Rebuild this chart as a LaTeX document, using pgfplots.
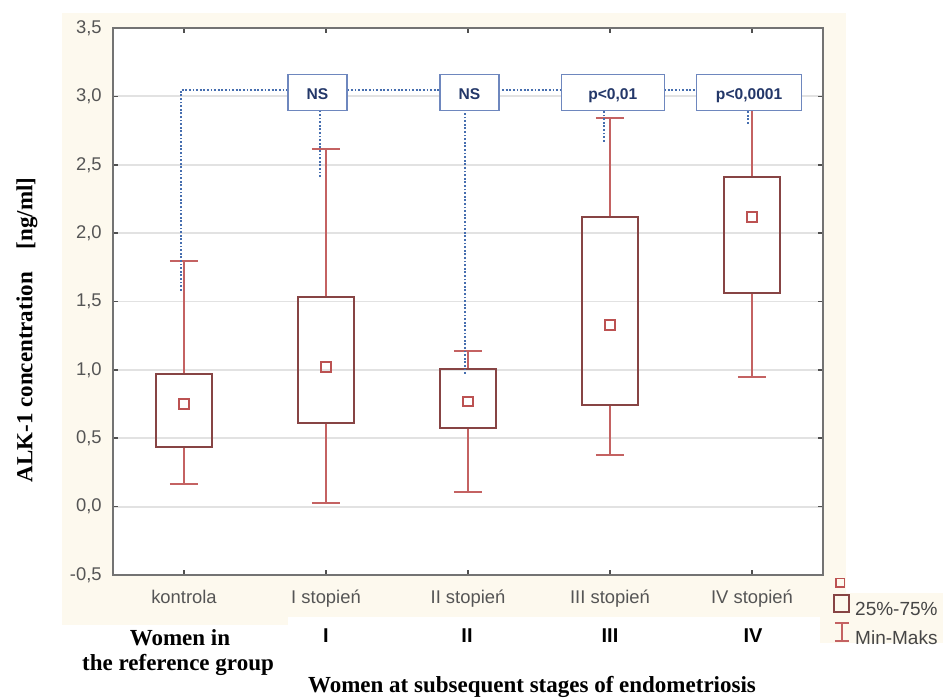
\documentclass[border=0pt]{standalone}
\usepackage{pgfplots}
\pgfplotsset{compat=1.18}
\usepgfplotslibrary{statistics}
\usepackage{fontspec}
\setmainfont{Liberation Serif}
\newfontfamily\arial{Liberation Sans}
\definecolor{cream}{RGB}{253,249,238}
\definecolor{boxc}{RGB}{135,68,68}
\definecolor{whiskc}{RGB}{196,98,98}
\definecolor{markc}{RGB}{188,82,82}
\definecolor{dotc}{RGB}{70,110,175}
\definecolor{annc}{RGB}{110,135,190}
\definecolor{annt}{RGB}{35,55,105}
\definecolor{labc}{RGB}{85,85,85}
\definecolor{legc}{RGB}{70,70,70}
\definecolor{axisc}{RGB}{115,115,115}
\definecolor{tickc}{RGB}{80,80,80}
\definecolor{gridc}{RGB}{226,226,226}
\begin{document}
\begin{tikzpicture}
\useasboundingbox (0,0) rectangle (472.5pt,349pt);
\fill[white] (0,0) rectangle (472.5pt,349pt);
\fill[cream] (31pt,40.5pt) rectangle (423pt,342.5pt);
\fill[cream] (31pt,36.5pt) rectangle (144pt,40.6pt);
\fill[cream] (410pt,27.5pt) rectangle (471.5pt,52.5pt);
\begin{axis}[
  at={(56.5pt,61.5pt)}, anchor=south west,
  scale only axis, width=355pt, height=273.5pt,
  xmin=-0.5, xmax=4.5, ymin=-0.5, ymax=3.5,
  boxplot/draw direction=y,
  xtick={0,1,2,3,4},
  xticklabels={kontrola, I stopień, II stopień, III stopień, IV stopień},
  ytick={-0.5,0,0.5,1,1.5,2,2.5,3,3.5},
  yticklabels={{-0,5},{0,0},{0,5},{1,0},{1,5},{2,0},{2,5},{3,0},{3,5}},
  ymajorgrids, major grid style={draw=gridc, line width=0.9pt},
  axis line style={draw=axisc, line width=1pt},
  tick style={draw=tickc, line width=0.8pt}, major tick length=2.5pt,
  tick align=inside,
  ticklabel style={font=\arial\fontsize{9.2}{10}\selectfont, text=labc},
  yticklabel style={anchor=east, inner sep=0pt, xshift=-5.5pt},
  xticklabel style={anchor=north, inner sep=0pt, text height=6.7pt, text depth=2pt, yshift=-7.5pt},
  axis background/.style={fill=white},
  legend style={at={(1,0)}, anchor=north west, xshift=5pt, yshift=2.25pt,
    draw=none, fill=none, inner sep=0pt, row sep=0pt,
    font=\arial\fontsize{9.5}{11}\selectfont, text=legc,
    nodes={inner sep=0pt, text height=8pt, text depth=3.5pt},
    /tikz/every odd column/.append style={column sep=2.5pt}},
  legend cell align=left,
]
% boxes
\addplot[forget plot, draw=whiskc, line width=1pt,
  boxplot prepared={draw position=0, lower whisker=0.165, lower quartile=0.437,
  median=0.75, upper quartile=0.97, upper whisker=1.796, box extend=0.4, whisker extend=0.2,
  every box/.style={draw=boxc, line width=1pt}, every median/.style={draw=none}}] coordinates {};
\addplot[forget plot, draw=whiskc, line width=1pt,
  boxplot prepared={draw position=1, lower whisker=0.026, lower quartile=0.61,
  median=1.02, upper quartile=1.53, upper whisker=2.615, box extend=0.4, whisker extend=0.2,
  every box/.style={draw=boxc, line width=1pt}, every median/.style={draw=none}}] coordinates {};
\addplot[forget plot, draw=whiskc, line width=1pt,
  boxplot prepared={draw position=2, lower whisker=0.105, lower quartile=0.575,
  median=0.77, upper quartile=1.01, upper whisker=1.135, box extend=0.4, whisker extend=0.2,
  every box/.style={draw=boxc, line width=1pt}, every median/.style={draw=none}}] coordinates {};
\addplot[forget plot, draw=whiskc, line width=1pt,
  boxplot prepared={draw position=3, lower whisker=0.38, lower quartile=0.745,
  median=1.33, upper quartile=2.12, upper whisker=2.84, box extend=0.4, whisker extend=0.2,
  every box/.style={draw=boxc, line width=1pt}, every median/.style={draw=none}}] coordinates {};
\addplot[forget plot, draw=whiskc, line width=1pt,
  boxplot prepared={draw position=4, lower whisker=0.95, lower quartile=1.56,
  median=2.12, upper quartile=2.41, upper whisker=2.95, box extend=0.4, whisker extend=0.2,
  every box/.style={draw=boxc, line width=1pt}, every median/.style={draw=none}}] coordinates {};
% mean markers
\addplot[forget plot, only marks, mark=square, mark size=2.4pt,
  mark options={draw=markc, line width=1pt, fill=none}]
  coordinates {(0,0.75) (1,1.02) (2,0.77) (3,1.33) (4,2.12)};
% dotted comparison lines
\addplot[forget plot, dotc, line width=1pt, dash pattern=on 0.9pt off 0.9pt]
  coordinates {(-0.02,1.58) (-0.02,3.05) (3.6,3.05)};
\addplot[forget plot, dotc, line width=1pt, dash pattern=on 0.9pt off 0.9pt]
  coordinates {(0.96,2.41) (0.96,2.9)};
\addplot[forget plot, dotc, line width=1pt, dash pattern=on 0.9pt off 0.9pt]
  coordinates {(1.98,0.97) (1.98,2.9)};
\addplot[forget plot, dotc, line width=1pt, dash pattern=on 0.9pt off 0.9pt]
  coordinates {(2.96,2.67) (2.96,2.9)};
\addplot[forget plot, dotc, line width=1pt, dash pattern=on 0.9pt off 0.9pt]
  coordinates {(3.97,2.80) (3.97,2.9)};
% annotation boxes
\tikzset{ann/.style={draw=annc, fill=white, line width=0.7pt, minimum height=18pt,
  inner sep=0pt, text=annt, font=\arial\bfseries\fontsize{7.8}{8}\selectfont,
  text height=7pt, text depth=0pt}}
\node[ann, minimum width=29.5pt] at (axis cs:0.94,3.03) {NS};
\node[ann, minimum width=29.5pt] at (axis cs:2.01,3.03) {NS};
\node[ann, minimum width=51.5pt] at (axis cs:3.02,3.03) {p<0,01};
\node[ann, minimum width=52.5pt] at (axis cs:3.98,3.03) {p<0,0001};
% legend
\addlegendimage{legend image code/.code={\draw[markc,line width=0.9pt] (0.9pt,-2.2pt) rectangle (5.1pt,2.0pt);}}
\addlegendentry{}
\addlegendimage{legend image code/.code={\draw[boxc,line width=0.9pt] (0pt,-0.5pt) rectangle (7.5pt,8pt);}}
\addlegendentry{25\%-75\%}
\addlegendimage{legend image code/.code={\draw[whiskc,line width=0.9pt] (3.75pt,-0.5pt) -- (3.75pt,8.5pt) (0.3pt,-0.5pt) -- (7.2pt,-0.5pt) (0.3pt,8.5pt) -- (7.2pt,8.5pt);}}
\addlegendentry{Min-Maks}
\end{axis}
% outer labels
\tikzset{roman/.style={font=\arial\bfseries\fontsize{10}{12}\selectfont}}
\node[roman] at (163pt,31pt) {I};
\node[roman] at (233.5pt,31pt) {II};
\node[roman] at (305pt,31pt) {III};
\node[roman] at (376.5pt,31pt) {IV};
\tikzset{tnr/.style={font=\bfseries\fontsize{11.5}{13}\selectfont, inner sep=0pt, anchor=base}}
\node[tnr] at (90pt,26.5pt) {Women in};
\node[tnr] at (89pt,14pt) {the reference group};
\node[tnr] at (266pt,2.8pt) {Women at subsequent stages of endometriosis};
\node[font=\bfseries\fontsize{11.5}{13}\selectfont, rotate=90, inner sep=0pt] at (13.5pt,184pt) {ALK-1 concentration\quad[ng/ml]};
\end{tikzpicture}
\end{document}
